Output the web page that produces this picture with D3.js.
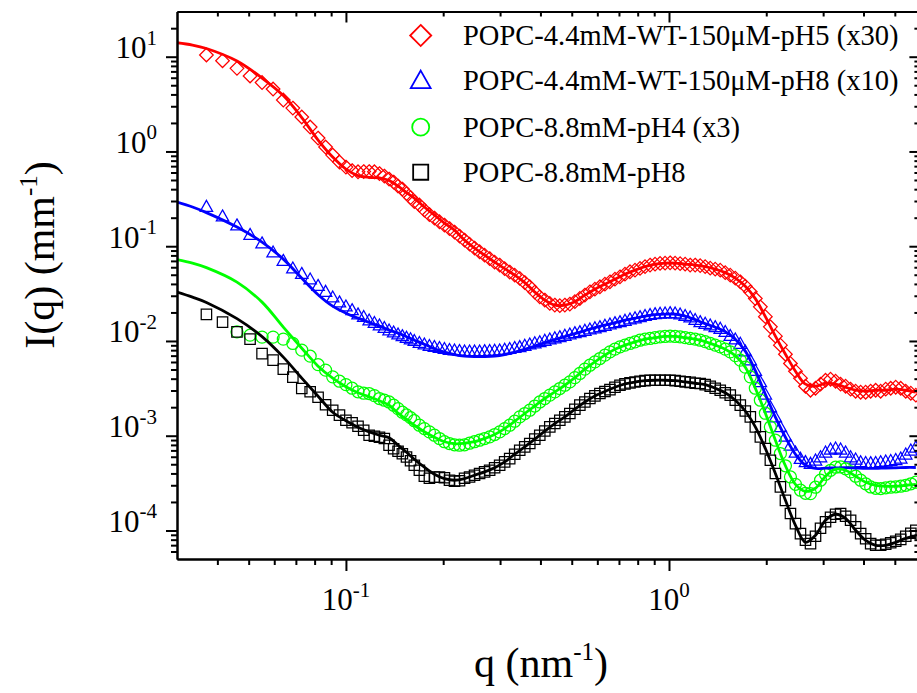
<!DOCTYPE html>
<html><head><meta charset="utf-8">
<script src="https://cdn.jsdelivr.net/npm/d3@7/dist/d3.min.js"></script>
<style>body{margin:0;background:#fff}svg{display:block}</style>
</head><body>
<svg id="chart" width="917" height="693"></svg>
<script>
// ---------------- DATA ----------------
// q values (nm^-1) of the measured points
const qData = [0.037,0.0415,0.046,0.0505,0.055,0.0595,0.064,0.0685,0.073,0.0775,0.082,0.0865,0.091,0.0955,0.1,0.1045,0.109,0.1135,0.118,0.1225,0.127,0.1315,0.136,0.1405,0.145,0.1495,0.154,0.1585,
0.1628,0.1688,0.1749,0.1813,0.1879,0.1948,0.2018,0.2092,0.2168,0.2247,0.2329,0.2414,0.2501,0.2593,0.2687,0.2785,0.2886,0.2991,0.3100,0.3213,0.3330,0.3451,0.3577,0.3707,0.3842,0.3981,0.4126,0.4276,0.4432,0.4592,0.4760,0.4932,0.5112,0.5297,0.5490,0.5690,0.5897,0.6111,0.6334,0.6564,0.6803,0.7050,0.7307,0.7573,0.7849,0.8134,0.8430,0.8737,0.9054,0.9384,0.9725,1.0079,1.0445,1.0825,1.1220,1.1627,1.2050,1.2489,1.2942,1.3415,1.3902,1.4407,1.4931,1.5474,1.6040,1.6622,1.7226,1.7852,1.8501,1.9176,1.9873,2.0596,2.1345,2.2121,2.2929,2.3763,2.4627,2.5522,2.6450,2.7416,2.8412,2.9444,3.0514,3.1623,3.2778,3.3970,3.5205,3.6484,3.7810,3.9192,4.0617,4.2093,4.3622,4.5207,4.6859,4.8562,5.0327,5.2156,5.4050,5.6039,5.8076];

// I(q) (mm^-1), POPC-4.4mM-WT-150uM-pH5 (x30)
const redData = [10.42,9.07,7.54,6.26,5.34,4.56,3.49,2.87,2.31,1.81,1.385,1.113,0.916,0.773,0.684,0.628,0.610,0.613,0.613,0.610,0.584,0.550,0.511,0.475,0.431,0.401,0.359,0.326,
0.296,0.272,0.2405,0.2157,0.198,0.181,0.167,0.1534,0.141,0.1279,
0.1160,0.1052,0.0955,0.0873,0.0805,0.0740,0.0679,0.0632,0.0580,0.0533,
0.0495,0.0457,0.0413,0.0373,0.0328,0.0292,0.0270,0.0249,0.0239,0.0236,
0.0239,0.0245,0.0260,0.0281,0.0305,0.0330,0.0352,0.0373,0.0398,0.0421,
0.0449,0.0475,0.0507,0.0537,0.0559,0.0583,0.0609,0.0632,0.0647,0.0658,
0.0663,0.0668,0.0663,0.0655,0.0647,0.0632,0.0632,0.0624,0.0609,0.0587,
0.0573,0.0559,0.0526,0.0495,0.0460,0.0421,0.0379,0.0330,0.0280,0.0229,
0.01806,0.01409,0.01124,0.00903,0.00725,0.00579,0.00480,0.00405,0.00333,0.00302,
0.00317,0.00350,0.00385,0.00395,0.00376,0.00350,0.00333,0.00310,0.00295,0.00288,
0.00288,0.00295,0.00302,0.00295,0.00310,0.00317,0.00325,0.00317,0.00295,0.00281,0.00268];

// POPC-4.4mM-WT-150uM-pH8 (x10)
const blueData = [0.262,0.2079,0.1670,0.1326,0.1078,0.0866,0.0705,0.0587,0.0514,0.0449,0.0384,0.0332,0.0290,0.0257,0.0233,0.0213,0.0192,0.01806,0.01658,0.01560,0.01468,0.01381,0.01300,0.01238,0.01180,0.01132,0.01089,0.01050,
0.01007,0.00960,0.00925,0.00892,0.00871,0.00850,0.00829,0.00809,0.00800,0.00790,
0.00781,0.00781,0.00781,0.00781,0.00786,0.00790,0.00794,0.00800,0.00813,0.00829,
0.00850,0.00867,0.00896,0.00925,0.00953,0.00978,0.01012,0.01045,0.01076,0.01105,
0.01143,0.01180,0.01218,0.01248,0.01291,0.01332,0.01372,0.01409,0.01458,0.01504,
0.01552,0.01591,0.01646,0.01699,0.01749,0.01797,0.01850,0.01895,0.01933,0.01952,
0.01966,0.01980,0.01966,0.01919,0.01850,0.01784,0.01679,0.01591,0.01530,0.01468,
0.01409,0.01355,0.01254,0.01138,0.01045,0.00941,0.00781,0.00627,0.00486,0.00370,
0.00274,0.00201,0.00157,0.001238,0.000988,0.000794,0.000670,0.000574,0.000531,0.000508,
0.000551,0.000597,0.000670,0.000720,0.000738,0.000720,0.000670,0.000597,0.000565,0.000529,
0.000519,0.000517,0.000519,0.000529,0.000538,0.000545,0.000558,0.000579,0.000638,0.000703,0.000756];

// POPC-8.8mM-pH4 (x3)  (no points at the two lowest q)
const greenData = [null,null,0.01248,0.01151,0.01097,0.01097,0.01045,0.00941,0.00800,0.00691,0.00562,0.00492,0.00418,0.00376,0.00346,0.00317,0.00291,0.00281,0.00279,0.00265,0.00247,0.00237,0.00227,0.00210,0.00193,0.00177,0.00166,0.00155,
0.00144,0.00129,0.00119,0.001097,0.001012,0.000934,0.000864,0.000827,0.000803,0.000794,
0.000803,0.000833,0.000864,0.000897,0.000934,0.000971,0.001030,0.001097,0.00119,0.00129,
0.001422,0.001579,0.001716,0.001859,0.002059,0.00227,0.00247,0.00268,0.00290,0.00315,
0.00341,0.00370,0.00410,0.00454,0.00504,0.00555,0.00602,0.00653,0.00708,0.00767,
0.00819,0.00867,0.00903,0.00941,0.00978,0.01019,0.01045,0.01063,0.01083,0.01105,
0.01116,0.01124,0.01116,0.01105,0.01083,0.01063,0.01045,0.01019,0.00983,0.00941,
0.00903,0.00867,0.00819,0.00767,0.00700,0.00627,0.00529,0.00418,0.00317,0.00237,
0.001729,0.001238,0.000897,0.000649,0.000482,0.000367,0.000307,0.000266,0.000247,0.000245,
0.000286,0.000339,0.000392,0.000432,0.000465,0.000468,0.000448,0.000415,0.000374,0.000339,
0.000311,0.000288,0.000279,0.000277,0.000282,0.000286,0.000289,0.000293,0.000300,0.000311,0.000323];

// POPC-8.8mM-pH8
const blackData = [0.01910,0.01579,0.01248,0.01045,0.00734,0.00627,0.00504,0.00415,0.00315,0.00291,0.00255,0.002125,0.001859,0.001647,0.001458,0.001372,0.001260,0.001143,0.001012,0.000988,0.000964,0.000934,0.000794,0.000729,0.000686,0.000646,0.000597,0.000545,
0.000488,0.000432,0.000374,0.000356,0.000365,0.000365,0.000360,0.000339,0.000331,0.000335,
0.000356,0.000367,0.000383,0.000399,0.000415,0.000432,0.000459,0.000488,0.000529,0.000574,
0.000638,0.000703,0.000762,0.000827,0.000919,0.001012,0.001121,0.001238,0.001345,0.001458,
0.001579,0.001716,0.001905,0.00210,0.00227,0.00247,0.00263,0.00279,0.00293,0.00307,
0.00325,0.00341,0.00352,0.00361,0.00369,0.00376,0.00381,0.00385,0.00385,0.00385,
0.00385,0.00385,0.00381,0.00376,0.00370,0.00365,0.00358,0.00356,0.00346,0.00333,
0.00317,0.00302,0.00284,0.00268,0.00237,0.00210,0.001823,0.001579,0.001238,0.000971,
0.000732,0.000551,0.000399,0.000288,0.000208,0.000151,0.0001183,0.0000928,0.0000788,0.0000727,
0.0000869,0.0001055,0.0001236,0.0001378,0.0001483,0.000151,0.0001413,0.0001282,0.0001094,0.0000928,
0.0000818,0.0000727,0.0000698,0.0000698,0.0000715,0.0000742,0.0000769,0.0000807,0.0000869,0.0000934,0.0001005];

// q values of the model (fit) curves
const qFit = [0.03,0.0335,0.037,0.046,0.055,0.064,0.073,0.082,0.091,0.1,0.109,0.118,0.127,0.136,0.145,0.154,
0.1628,0.1749,0.1879,0.2018,0.2168,0.2329,0.2501,0.2687,0.2886,0.3100,0.3330,0.3577,0.3842,0.4126,0.4432,0.4760,0.5112,0.5490,0.5897,0.6334,0.6803,0.7307,0.7849,0.8430,0.9054,0.9725,1.0445,1.1220,1.2050,1.2942,1.3902,1.4931,1.6040,1.7226,1.8501,1.9873,2.1345,2.2929,2.4627,2.6450,2.8412,3.0514,3.2778,3.5205,3.7810,4.0617,4.3622,4.6859,5.0327,5.4050,5.8076];

const redFit = [14.05,13.29,12.21,9.01,5.96,3.89,2.28,1.319,0.873,0.652,0.556,0.533,0.526,0.493,0.431,0.368,
0.322,0.259,0.213,0.1754,0.1479,0.1160,0.0955,0.0805,0.0679,0.0580,
0.0495,0.0413,0.0328,0.0270,0.0239,0.0239,0.0260,0.0305,0.0352,0.0398,
0.0449,0.0507,0.0559,0.0609,0.0647,0.0663,0.0663,0.0647,0.0632,0.0609,
0.0573,0.0526,0.0460,0.0379,0.0280,0.01806,0.01124,0.00725,0.00480,0.00350,
0.00333,0.00358,0.00350,0.00325,0.00302,0.00295,0.00302,0.00302,0.00310,0.00302,0.00288];

const blueFit = [0.292,0.259,0.2263,0.1591,0.1105,0.0731,0.0460,0.0308,0.0233,0.01966,0.01741,0.01568,0.01433,0.01300,0.01209,0.01110,
0.01019,0.00925,0.00829,0.00762,0.00717,0.00691,0.00683,0.00683,0.00691,0.00717,
0.00762,0.00819,0.00881,0.00960,0.01032,0.01110,0.01194,0.01284,0.01381,0.01468,
0.01560,0.01658,0.01741,0.01827,0.01895,0.01919,0.01919,0.01827,0.01679,0.01523,
0.01398,0.01254,0.01045,0.00781,0.00486,0.00274,0.00157,0.000964,0.000638,0.000488,
0.000452,0.000455,0.000458,0.000460,0.000456,0.000452,0.000452,0.000456,0.000458,0.000462,0.000462];

const greenFit = [0.0722,0.0663,0.0594,0.0418,0.0257,0.01398,0.00839,0.00542,0.00405,0.00329,0.00284,0.00258,0.00234,0.00210,0.001729,0.001493,
0.00129,0.001102,0.000964,0.000864,0.000823,0.000833,0.000864,0.000934,0.001030,0.00119,
0.001422,0.001716,0.002059,0.00247,0.00290,0.00341,0.00410,0.00504,0.00602,0.00708,
0.00819,0.00903,0.00978,0.01045,0.01083,0.01116,0.01116,0.01083,0.01045,0.00983,
0.00903,0.00819,0.00700,0.00529,0.00317,0.001729,0.000897,0.000482,0.000307,0.000259,
0.000279,0.000374,0.000443,0.000432,0.000374,0.000323,0.000300,0.000293,0.000293,0.000300,0.000307];

const blackFit = [0.0328,0.0290,0.0255,0.01720,0.01110,0.00675,0.00405,0.00261,0.00177,0.00144,0.001229,0.001097,0.001012,0.000953,0.000794,0.000670,
0.000565,0.000465,0.000392,0.000352,0.000339,0.000352,0.000383,0.000415,0.000459,0.000529,
0.000638,0.000762,0.000919,0.001121,0.001345,0.001579,0.001905,0.00227,0.00263,0.00293,
0.00325,0.00352,0.00369,0.00381,0.00385,0.00385,0.00381,0.00370,0.00358,0.00346,
0.00317,0.00284,0.00237,0.001823,0.001238,0.000732,0.000399,0.000208,0.0001135,0.0000750,
0.0000890,0.0001282,0.0001483,0.0001345,0.0001005,0.0000788,0.0000698,0.0000698,0.0000750,0.0000827,0.0000869];

const legendLabels = ["POPC-4.4mM-WT-150\u03BCM-pH5 (x30)","POPC-4.4mM-WT-150\u03BCM-pH8 (x10)","POPC-8.8mM-pH4 (x3)","POPC-8.8mM-pH8"];
const xMajorTicks = [0.1, 1];
const xMajorLabels = ["-1", "0"];
const yMajorTicks = [1e-4, 1e-3, 1e-2, 1e-1, 1, 10];
const yMajorLabels = ["-4", "-3", "-2", "-1", "0", "1"];
const xTitle = ["q (nm", "-1", ")"];
const yTitle = ["I(q) (mm", "-1", ")"];

// ---------------- DRAWING ----------------
const FONT = '"Liberation Serif","Times New Roman",serif';
const svg = d3.select("#chart");
const L = 177, R = 920.4, T = 11.5, B = 559;
const x = d3.scaleLog().domain([0.03, 6]).range([L, R]);
const y = d3.scaleLog().domain([5e-5, 30]).range([B, T]);

svg.append("rect").attr("width",917).attr("height",693).attr("fill","#fff");
svg.append("defs").append("clipPath").attr("id","clip").append("rect")
  .attr("x", L).attr("y", T).attr("width", R - L).attr("height", B - T);

const series = [
  {label: legendLabels[0], color: "#ff0000", shape: "diamond", data: redData,   fit: redFit},
  {label: legendLabels[1], color: "#0000ff", shape: "triangle", data: blueData, fit: blueFit},
  {label: legendLabels[2], color: "#00ff00", shape: "circle",  data: greenData, fit: greenFit},
  {label: legendLabels[3], color: "#000000", shape: "square",  data: blackData, fit: blackFit}
];

function shapePath(shape, s) {
  if (shape === "diamond") { const r = 6.8*s; return `M0,${-r}L${r},0L0,${r}L${-r},0Z`; }
  if (shape === "triangle") { const w = 6.2*s, t = 6.2*s, b = 4.8*s; return `M0,${-t}L${w},${b}L${-w},${b}Z`; }
  if (shape === "circle") { const r = 6*s; return `M${r},0A${r},${r} 0 1,1 ${-r},0A${r},${r} 0 1,1 ${r},0Z`; }
  const h = 5.2*s; return `M${-h},${-h}H${h}V${h}H${-h}Z`;
}

const plot = svg.append("g").attr("clip-path","url(#clip)");

// measured points
series.forEach(sr => {
  const n = Math.min(qData.length, sr.data.length);
  const pts = [];
  for (let i = 0; i < n; i++) if (sr.data[i] != null) pts.push([qData[i], sr.data[i]]);
  plot.append("g").selectAll("path").data(pts).join("path")
    .attr("d", shapePath(sr.shape, 1))
    .attr("transform", d => `translate(${x(d[0])},${y(d[1])})`)
    .attr("fill", "none").attr("stroke", sr.color).attr("stroke-width", 1.25);
});

// fit curves
const line = d3.line().x(d => x(d[0])).y(d => y(d[1])).curve(d3.curveCatmullRom.alpha(0.5));
series.forEach(sr => {
  const n = Math.min(qFit.length, sr.fit.length);
  const pts = [];
  for (let i = 0; i < n; i++) pts.push([qFit[i], sr.fit[i]]);
  plot.append("path").datum(pts).attr("d", line)
    .attr("fill","none").attr("stroke", sr.color).attr("stroke-width", 2.8).attr("stroke-linejoin","round");
});

// axes
const xMinor = [], yMinor = [];
[0.01, 0.1, 1].forEach(d => { for (let m = 2; m <= 9; m++) { const v = m*d; if (v > 0.03 && v < 6) xMinor.push(v); } });
[1e-5,1e-4,1e-3,1e-2,1e-1,1,10].forEach(d => { for (let m = 2; m <= 9; m++) { const v = m*d; if (v > 5e-5 && v < 30) yMinor.push(v); } });

function addAxis(axisFn, scale, transform, ticks, size) {
  const g = svg.append("g").attr("transform", transform)
    .call(axisFn(scale).tickValues(ticks).tickSize(size).tickSizeOuter(0).tickFormat(() => ""));
  g.selectAll("path.domain").attr("stroke","#000").attr("stroke-width",2);
  g.selectAll(".tick line").attr("stroke","#000").attr("stroke-width",2);
  return g;
}
addAxis(d3.axisBottom, x, `translate(0,${B})`, xMinor, 6);
addAxis(d3.axisBottom, x, `translate(0,${B})`, xMajorTicks, 12);
addAxis(d3.axisTop, x, `translate(0,${T})`, xMinor, -5);
addAxis(d3.axisTop, x, `translate(0,${T})`, xMajorTicks, -11);
addAxis(d3.axisLeft, y, `translate(${L},0)`, yMinor, 6);
addAxis(d3.axisLeft, y, `translate(${L},0)`, yMajorTicks, 11);
addAxis(d3.axisRight, y, `translate(${R},0)`, yMinor, -6);
addAxis(d3.axisRight, y, `translate(${R},0)`, yMajorTicks, -11);

// tick labels with superscripts
xMajorTicks.forEach((v, i) => {
  const t = svg.append("text").attr("x", x(v)).attr("y", 610).attr("text-anchor","middle")
    .style("font-family", FONT).style("font-size","31px").attr("fill","#000");
  t.append("tspan").text("10");
  t.append("tspan").attr("dy", -13).style("font-size","21px").text(xMajorLabels[i]);
});
yMajorTicks.forEach((v, i) => {
  const t = svg.append("text").attr("x", 157).attr("y", y(v) + 1.5).attr("text-anchor","end")
    .style("font-family", FONT).style("font-size","31px").attr("fill","#000");
  t.append("tspan").text("10");
  t.append("tspan").attr("dy", -13.5).style("font-size","21px").text(yMajorLabels[i]);
});

// axis titles
function title(parts, attrs) {
  const t = svg.append("text").style("font-family", FONT).style("font-size","42px")
    .attr("text-anchor","middle").attr("fill","#000");
  Object.entries(attrs).forEach(([k, v]) => t.attr(k, v));
  t.append("tspan").text(parts[0]);
  t.append("tspan").attr("dy", -17).style("font-size","25px").text(parts[1]);
  t.append("tspan").attr("dy", 17).text(parts[2]);
}
title(xTitle, {x: 541, y: 677});
title(yTitle, {transform: "translate(53.5,255) rotate(-90)"});

// legend
const legY = [45, 90, 136.7, 181.7];
const legScale = [1.55, 1.6, 1.42, 1.45];
series.forEach((sr, i) => {
  svg.append("path").attr("d", shapePath(sr.shape, legScale[i]))
    .attr("transform", `translate(420.7,${legY[i] - 9.5})`)
    .attr("fill","none").attr("stroke", sr.color).attr("stroke-width", 1.8);
  svg.append("text").attr("x", 463).attr("y", legY[i])
    .style("font-family", FONT).style("font-size","28.5px").attr("fill","#000").text(sr.label);
});
</script>
</body></html>
